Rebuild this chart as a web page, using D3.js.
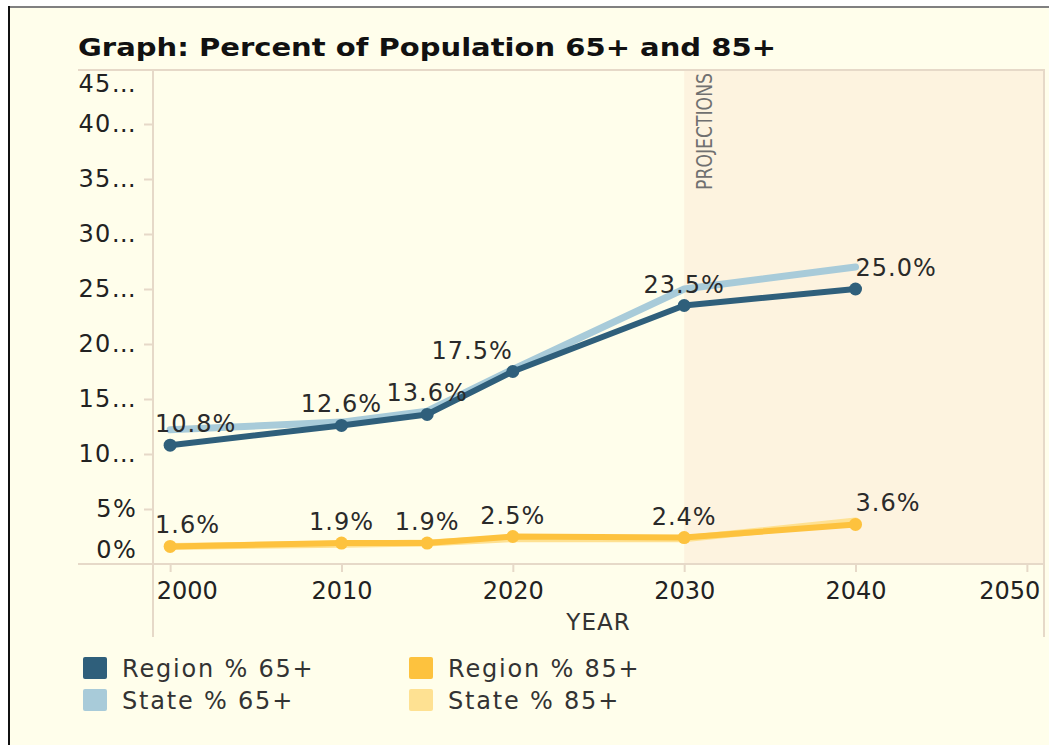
<!DOCTYPE html>
<html>
<head>
<meta charset="utf-8">
<script src="https://cdn.jsdelivr.net/npm/d3@7"></script>
<style>
  html, body { margin: 0; padding: 0; background: #fff; }
  svg { display: block; }
  text { font-family: "DejaVu Sans", Verdana, sans-serif; fill: #333; }
</style>
</head>
<body>
<script>
(function() {

    const width = 1049;
    const height = 745;

    // data
    const years = [2000, 2010, 2015, 2020, 2030, 2040];
    const region65 = [10.8, 12.6, 13.6, 17.5, 23.5, 25.0];
    const state65 = [12.2, 12.9, 13.9, 17.7, 25.0, 27.0];
    const region85 = [1.6, 1.9, 1.9, 2.5, 2.4, 3.6];
    const state85 = [1.6, 1.8, 1.9, 2.3, 2.3, 3.9];
    const yTicks = [0, 5, 10, 15, 20, 25, 30, 35, 40, 45];
    const yTickLabels = ["0%", "5%", "10\u2026", "15\u2026", "20\u2026", "25\u2026", "30\u2026", "35\u2026", "40\u2026", "45\u2026"];
    const xTicks = [2000, 2010, 2020, 2030, 2040, 2050];
    const projectionStart = 2030;
    const seriesNames = ["Region % 65+", "State % 65+", "Region % 85+", "State % 85+"];
    const seriesColors = ["#2f5f7b", "#a8cbd9", "#fdc23e", "#fee192"];

    // label anchoring per point (style only)
    const anchor65 = ["flush", "middle", "middle", "end", "middle", "start"];
    const anchor85 = ["flush", "middle", "middle", "middle", "middle", "start"];

    const left = 153, right = 1044, top = 69, bottom = 564;

    const x = d3.scaleLinear().domain([1999, 2051]).range([left, right]);
    const y = d3.scaleLinear().domain([0, 45]).range([bottom, top]);

    const svg = d3.select("body").append("svg")
        .attr("width", width)
        .attr("height", height);

    // page frame
    svg.append("rect").attr("x", 8).attr("y", 6).attr("width", width - 8).attr("height", height - 6)
        .attr("fill", "#fffeeb");
    svg.append("line").attr("x1", 8).attr("x2", width).attr("y1", 7).attr("y2", 7)
        .attr("stroke", "#808080").attr("stroke-width", 2);
    svg.append("line").attr("x1", 9).attr("x2", 9).attr("y1", 6).attr("y2", height)
        .attr("stroke", "#111").attr("stroke-width", 2);

    // title
    svg.append("text")
        .attr("x", 78).attr("y", 56)
        .attr("textLength", 698)
        .attr("lengthAdjust", "spacingAndGlyphs")
        .style("font-weight", "bold")
        .style("font-size", "25px")
        .style("fill", "#111")
        .text("Graph: Percent of Population 65+ and 85+");

    // projection band
    svg.append("rect")
        .attr("x", x(projectionStart)).attr("y", top)
        .attr("width", right - x(projectionStart)).attr("height", bottom - top)
        .attr("fill", "#fdf3df");

    svg.append("text")
        .attr("transform", "translate(" + (x(projectionStart) + 28) + "," + 190 + ") rotate(-90)")
        .attr("textLength", 117)
        .attr("lengthAdjust", "spacingAndGlyphs")
        .style("font-size", "22px")
        .style("fill", "#707070")
        .text("PROJECTIONS");

    // frame lines
    const lineColor = "#e6d9c8";
    svg.append("line").attr("x1", 78).attr("x2", right).attr("y1", top + 1).attr("y2", top + 1)
        .attr("stroke", lineColor).attr("stroke-width", 2);
    svg.append("line").attr("x1", 78).attr("x2", right).attr("y1", bottom).attr("y2", bottom)
        .attr("stroke", lineColor).attr("stroke-width", 2);
    svg.append("line").attr("x1", left).attr("x2", left).attr("y1", top).attr("y2", 637)
        .attr("stroke", lineColor).attr("stroke-width", 2);
    svg.append("line").attr("x1", right).attr("x2", right).attr("y1", top).attr("y2", 637)
        .attr("stroke", lineColor).attr("stroke-width", 2);

    // y axis
    const yAxis = d3.axisLeft(y)
        .tickValues(yTicks)
        .tickSize(8)
        .tickPadding(7)
        .tickFormat((d, i) => yTickLabels[i]);
    const gy = svg.append("g").attr("transform", "translate(" + (left - 1) + ",0)").call(yAxis);
    gy.select(".domain").remove();
    gy.selectAll(".tick line").attr("stroke", lineColor).attr("stroke-width", 2);
    gy.selectAll(".tick text")
        .style("font-size", "24px")
        .style("letter-spacing", "1.3px")
        .style("fill", "#222")
        .attr("dy", d => d === 0 ? "-0.28em" : (d === 45 ? "0.95em" : "0.32em"));
    gy.selectAll(".tick").filter(d => d === 0 || d === 45).select("line").remove();

    // x axis
    const xAxis = d3.axisBottom(x)
        .tickValues(xTicks)
        .tickSize(8)
        .tickPadding(10)
        .tickFormat(d3.format("d"));
    const gx = svg.append("g").attr("transform", "translate(0," + bottom + ")").call(xAxis);
    gx.select(".domain").remove();
    gx.selectAll(".tick line").attr("stroke", lineColor).attr("stroke-width", 2);
    gx.selectAll(".tick text")
        .style("font-size", "24px")
        .style("fill", "#222")
        .attr("text-anchor", d => d === 2000 ? "start" : (d === 2050 ? "end" : "middle"))
        .attr("dx", d => d === 2000 ? "-14" : (d === 2050 ? "13" : "0"));

    svg.append("text")
        .attr("x", (left + right) / 2).attr("y", 630)
        .attr("text-anchor", "middle")
        .style("font-size", "23px")
        .style("letter-spacing", "1px")
        .text("YEAR");

    // lines
    const line = d3.line()
        .x((d, i) => x(years[i]))
        .y(d => y(d));

    const series = [
        { values: state65, color: seriesColors[1], width: 7, dots: false },
        { values: region65, color: seriesColors[0], width: 6, dots: true },
        { values: state85, color: seriesColors[3], width: 7, dots: false },
        { values: region85, color: seriesColors[2], width: 6, dots: true }
    ];

    series.forEach(s => {
        svg.append("path")
            .datum(s.values)
            .attr("d", line)
            .attr("fill", "none")
            .attr("stroke", s.color)
            .attr("stroke-width", s.width)
            .attr("stroke-linejoin", "round")
            .attr("stroke-linecap", "round");
        if (s.dots) {
            svg.selectAll(null)
                .data(s.values)
                .enter()
                .append("circle")
                .attr("cx", (d, i) => x(years[i]))
                .attr("cy", d => y(d))
                .attr("r", 6.5)
                .attr("fill", s.color);
        }
    });

    // value labels for region series
    [[region65, anchor65], [region85, anchor85]].forEach(([vals, anchors]) => {
        svg.selectAll(null)
            .data(vals)
            .enter()
            .append("text")
            .attr("x", (d, i) => anchors[i] === "flush" ? left + 2 : x(years[i]))
            .attr("y", d => y(d) - 13)
            .attr("text-anchor", (d, i) => anchors[i] === "flush" ? "start" : anchors[i])
            .style("font-size", "24px")
            .style("letter-spacing", "1px")
            .style("fill", "#2a2a2a")
            .text(d => d.toFixed(1) + "%");
    });

    // legend
    const legend = svg.append("g")
        .selectAll("g")
        .data(seriesNames)
        .enter()
        .append("g")
        .attr("transform", (d, i) => "translate(" + (83 + Math.floor(i / 2) * 326) + "," + (657 + (i % 2) * 32) + ")");

    legend.append("rect")
        .attr("width", 24)
        .attr("height", 22)
        .attr("rx", 2)
        .style("fill", (d, i) => seriesColors[i]);

    legend.append("text")
        .attr("x", 39)
        .attr("y", 11)
        .attr("dy", "0.36em")
        .style("font-size", "24px")
        .style("letter-spacing", "1.8px")
        .text(d => d);

})();
</script>
</body>
</html>
